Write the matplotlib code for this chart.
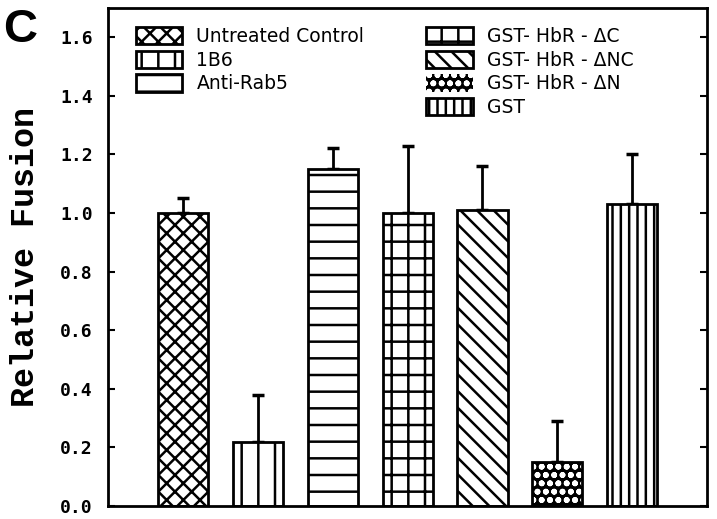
import numpy as np
import matplotlib.pyplot as plt
from matplotlib.patches import Patch

labels = ["Untreated Control", "1B6", "Anti-Rab5", "GST- HbR - \u0394C",
          "GST- HbR - \u0394NC", "GST- HbR - \u0394N", "GST"]
values = [1.00, 0.22, 1.15, 1.00, 1.01, 0.15, 1.03]
errors = [0.05, 0.16, 0.07, 0.23, 0.15, 0.14, 0.17]
hatches = ["xx", "|", "-", "+", "\\\\", "oo", "||"]
yticks = [0.0, 0.2, 0.4, 0.6, 0.8, 1.0, 1.2, 1.4, 1.6]

plt.rcParams["hatch.linewidth"] = 1.8

fig = plt.figure(figsize=(7.17, 5.19), dpi=100)
ax = fig.add_axes([0.151, 0.025, 0.835, 0.96])

x = np.arange(len(values))
for i, (v, e, h) in enumerate(zip(values, errors, hatches)):
    if h == "oo":
        # dark bar with white dots
        ax.bar(x[i], v, width=0.67, color="black", edgecolor="white",
               hatch=h, linewidth=0, zorder=2)
        ax.bar(x[i], v, width=0.67, fill=False, edgecolor="black",
               linewidth=2, zorder=3)
    else:
        ax.bar(x[i], v, width=0.67, color="white", edgecolor="black",
               hatch=h, linewidth=2, zorder=2)
    ax.errorbar(x[i], v, yerr=[[0], [e]], fmt="none", ecolor="black",
                elinewidth=2, capsize=4, capthick=2.5, zorder=1)

# legend proxies
proxies = []
for h in hatches:
    if h == "oo":
        proxies.append(Patch(facecolor="black", edgecolor="white", hatch=h,
                             linewidth=0))
    else:
        proxies.append(Patch(facecolor="white", edgecolor="black", hatch=h,
                             linewidth=2))

leg_kw = dict(frameon=False, prop={"family": "DejaVu Sans", "size": 13.5},
              handlelength=2.5, handleheight=1.05, labelspacing=0.25,
              handletextpad=0.75, borderaxespad=0)
leg1 = ax.legend(proxies[:3], labels[:3], loc="upper left",
                 bbox_to_anchor=(0.033, 0.977), **leg_kw)
ax.add_artist(leg1)
ax.legend(proxies[3:], labels[3:], loc="upper left",
          bbox_to_anchor=(0.518, 0.977), **leg_kw)

ax.set_xlim(-1, 7)
ax.set_ylim(0, 1.7)
ax.set_xticks([])
ax.set_yticks(yticks)
ax.set_yticklabels([f"{t:.1f}" for t in yticks],
                   fontdict={"family": "DejaVu Sans Mono", "weight": "bold",
                             "size": 13})
ax.tick_params(axis="y", direction="in", length=5, width=1.5, right=True,
               pad=11)
for s in ax.spines.values():
    s.set_linewidth(2)

ax.set_ylabel("Relative Fusion", family="Liberation Mono", weight="bold",
              fontsize=24, labelpad=14)
fig.text(0.005, 0.985, "C", family="Liberation Sans", weight="bold",
         fontsize=34, va="top", ha="left")

fig.savefig("out.png", dpi=100)
